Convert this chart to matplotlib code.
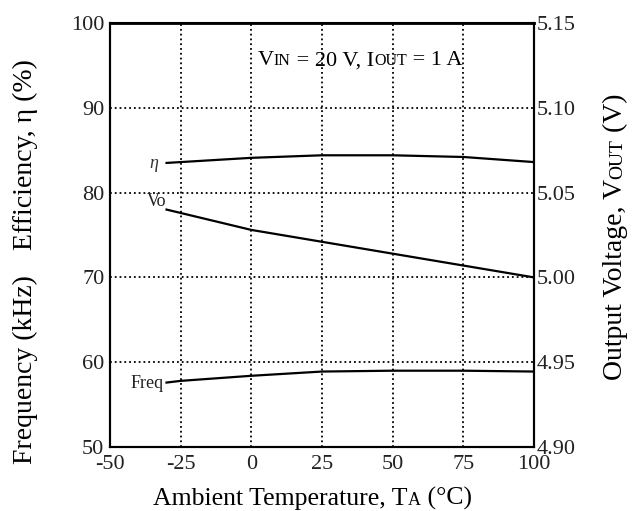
import numpy as np
import matplotlib.pyplot as plt
from matplotlib import transforms

plt.rcParams['font.family'] = ['Liberation Serif', 'DejaVu Serif']

# data
temp = [-30, -25, 0, 25, 50, 75, 100]
eff = [83.5, 83.6, 84.1, 84.4, 84.4, 84.2, 83.6]          # %
vout = [5.040, 5.038, 5.028, 5.021, 5.014, 5.007, 5.000]  # V
freq = [57.6, 57.8, 58.4, 58.9, 59.0, 59.0, 58.9]         # kHz

xticks = [-50, -25, 0, 25, 50, 75, 100]
lticks = [50, 60, 70, 80, 90, 100]
rticks = [4.90, 4.95, 5.00, 5.05, 5.10, 5.15]

fig = plt.figure(figsize=(6.38, 5.11), dpi=100)
ax = fig.add_axes([0.1724, 0.1252, 0.6646, 0.8298])
ax2 = ax.twinx()

ax.set_xlim(-50, 100)
ax.set_ylim(50, 100)
ax2.set_ylim(4.90, 5.15)

# dotted grid, inner lines only
for xv in xticks[1:-1]:
    ax.axvline(xv, color='black', ls=':', lw=1.3, zorder=1)
for yv in lticks[1:-1]:
    ax.axhline(yv, color='black', ls=':', lw=1.3, zorder=1)

ax.plot(temp, eff, color='black', lw=1.6, zorder=3)
ax.plot(temp, freq, color='black', lw=1.6, zorder=3)
ax2.plot(temp, vout, color='black', lw=1.6, zorder=3)

for a in (ax, ax2):
    for sp in a.spines.values():
        sp.set_linewidth(1.5)
ax.spines['top'].set_linewidth(2.0)

ax.set_xticks(xticks)
ax.set_xticklabels([str(v) for v in xticks], fontsize=16)
ax.set_yticks(lticks)
ax.set_yticklabels([str(v) for v in lticks], fontsize=16)
ax2.set_yticks(rticks)
ax2.set_yticklabels(['%.2f' % v for v in rticks], fontsize=16)
ax.tick_params(axis='y', length=0, pad=4, colors='#222222')
ax.tick_params(axis='x', length=0, pad=6, colors='#222222')
ax2.tick_params(length=0, pad=2, colors='#222222')

# curve labels
ax.text(-33, 83.4, 'η', style='italic', fontsize=13, ha='right', va='center', color='#333333')
ax.text(-30, 79.0, 'Vo', fontsize=13, ha='right', va='center', color='#222222')
ax.text(-31, 57.5, 'Freq', fontsize=13, ha='right', va='center', color='#222222')

# axis titles
fig.text(0.040, 0.697, 'Efficiency, η (%)', rotation=90, fontsize=20, ha='center', va='center')
fig.text(0.040, 0.276, 'Frequency (kHz)', rotation=90, fontsize=20, ha='center', va='center')

renderer = fig.canvas.get_renderer()


def measure(s, sz):
    # bars on both sides so that spaces count
    t1 = fig.text(0, 0, '|' + s + '|', fontsize=sz)
    t2 = fig.text(0, 0, '||', fontsize=sz)
    w = t1.get_window_extent(renderer).width - t2.get_window_extent(renderer).width
    t1.remove()
    t2.remove()
    return w


def rich(base, x, y, parts, vertical=False, center=False):
    total = sum(measure(s, sz) for s, sz in parts)
    d = -total / 2 if center else 0.0
    for s, sz in parts:
        if vertical:
            tr = transforms.offset_copy(base, fig=fig, x=0, y=d, units='dots')
            fig.text(x, y, s, fontsize=sz, transform=tr, rotation=90,
                     rotation_mode='anchor', ha='left', va='baseline')
        else:
            tr = transforms.offset_copy(base, fig=fig, x=d, y=0, units='dots')
            fig.text(x, y, s, fontsize=sz, transform=tr, ha='left', va='baseline')
        d += measure(s, sz)


rich(ax.transData, 2.3, 95.0,
     [('V', 16), ('IN', 11.5), (' = 20 V, I', 16), ('OUT', 11.5), (' = 1 A', 16)])
rich(fig.transFigure, 0.49, 0.012,
     [('Ambient Temperature, T', 18.5), ('A', 13), (' (°C)', 18.5)], center=True)
rich(fig.transFigure, 0.975, 0.537,
     [('Output Voltage, V', 20), ('OUT', 14), (' (V)', 20)], vertical=True, center=True)

fig.savefig('out.png', dpi=100)
